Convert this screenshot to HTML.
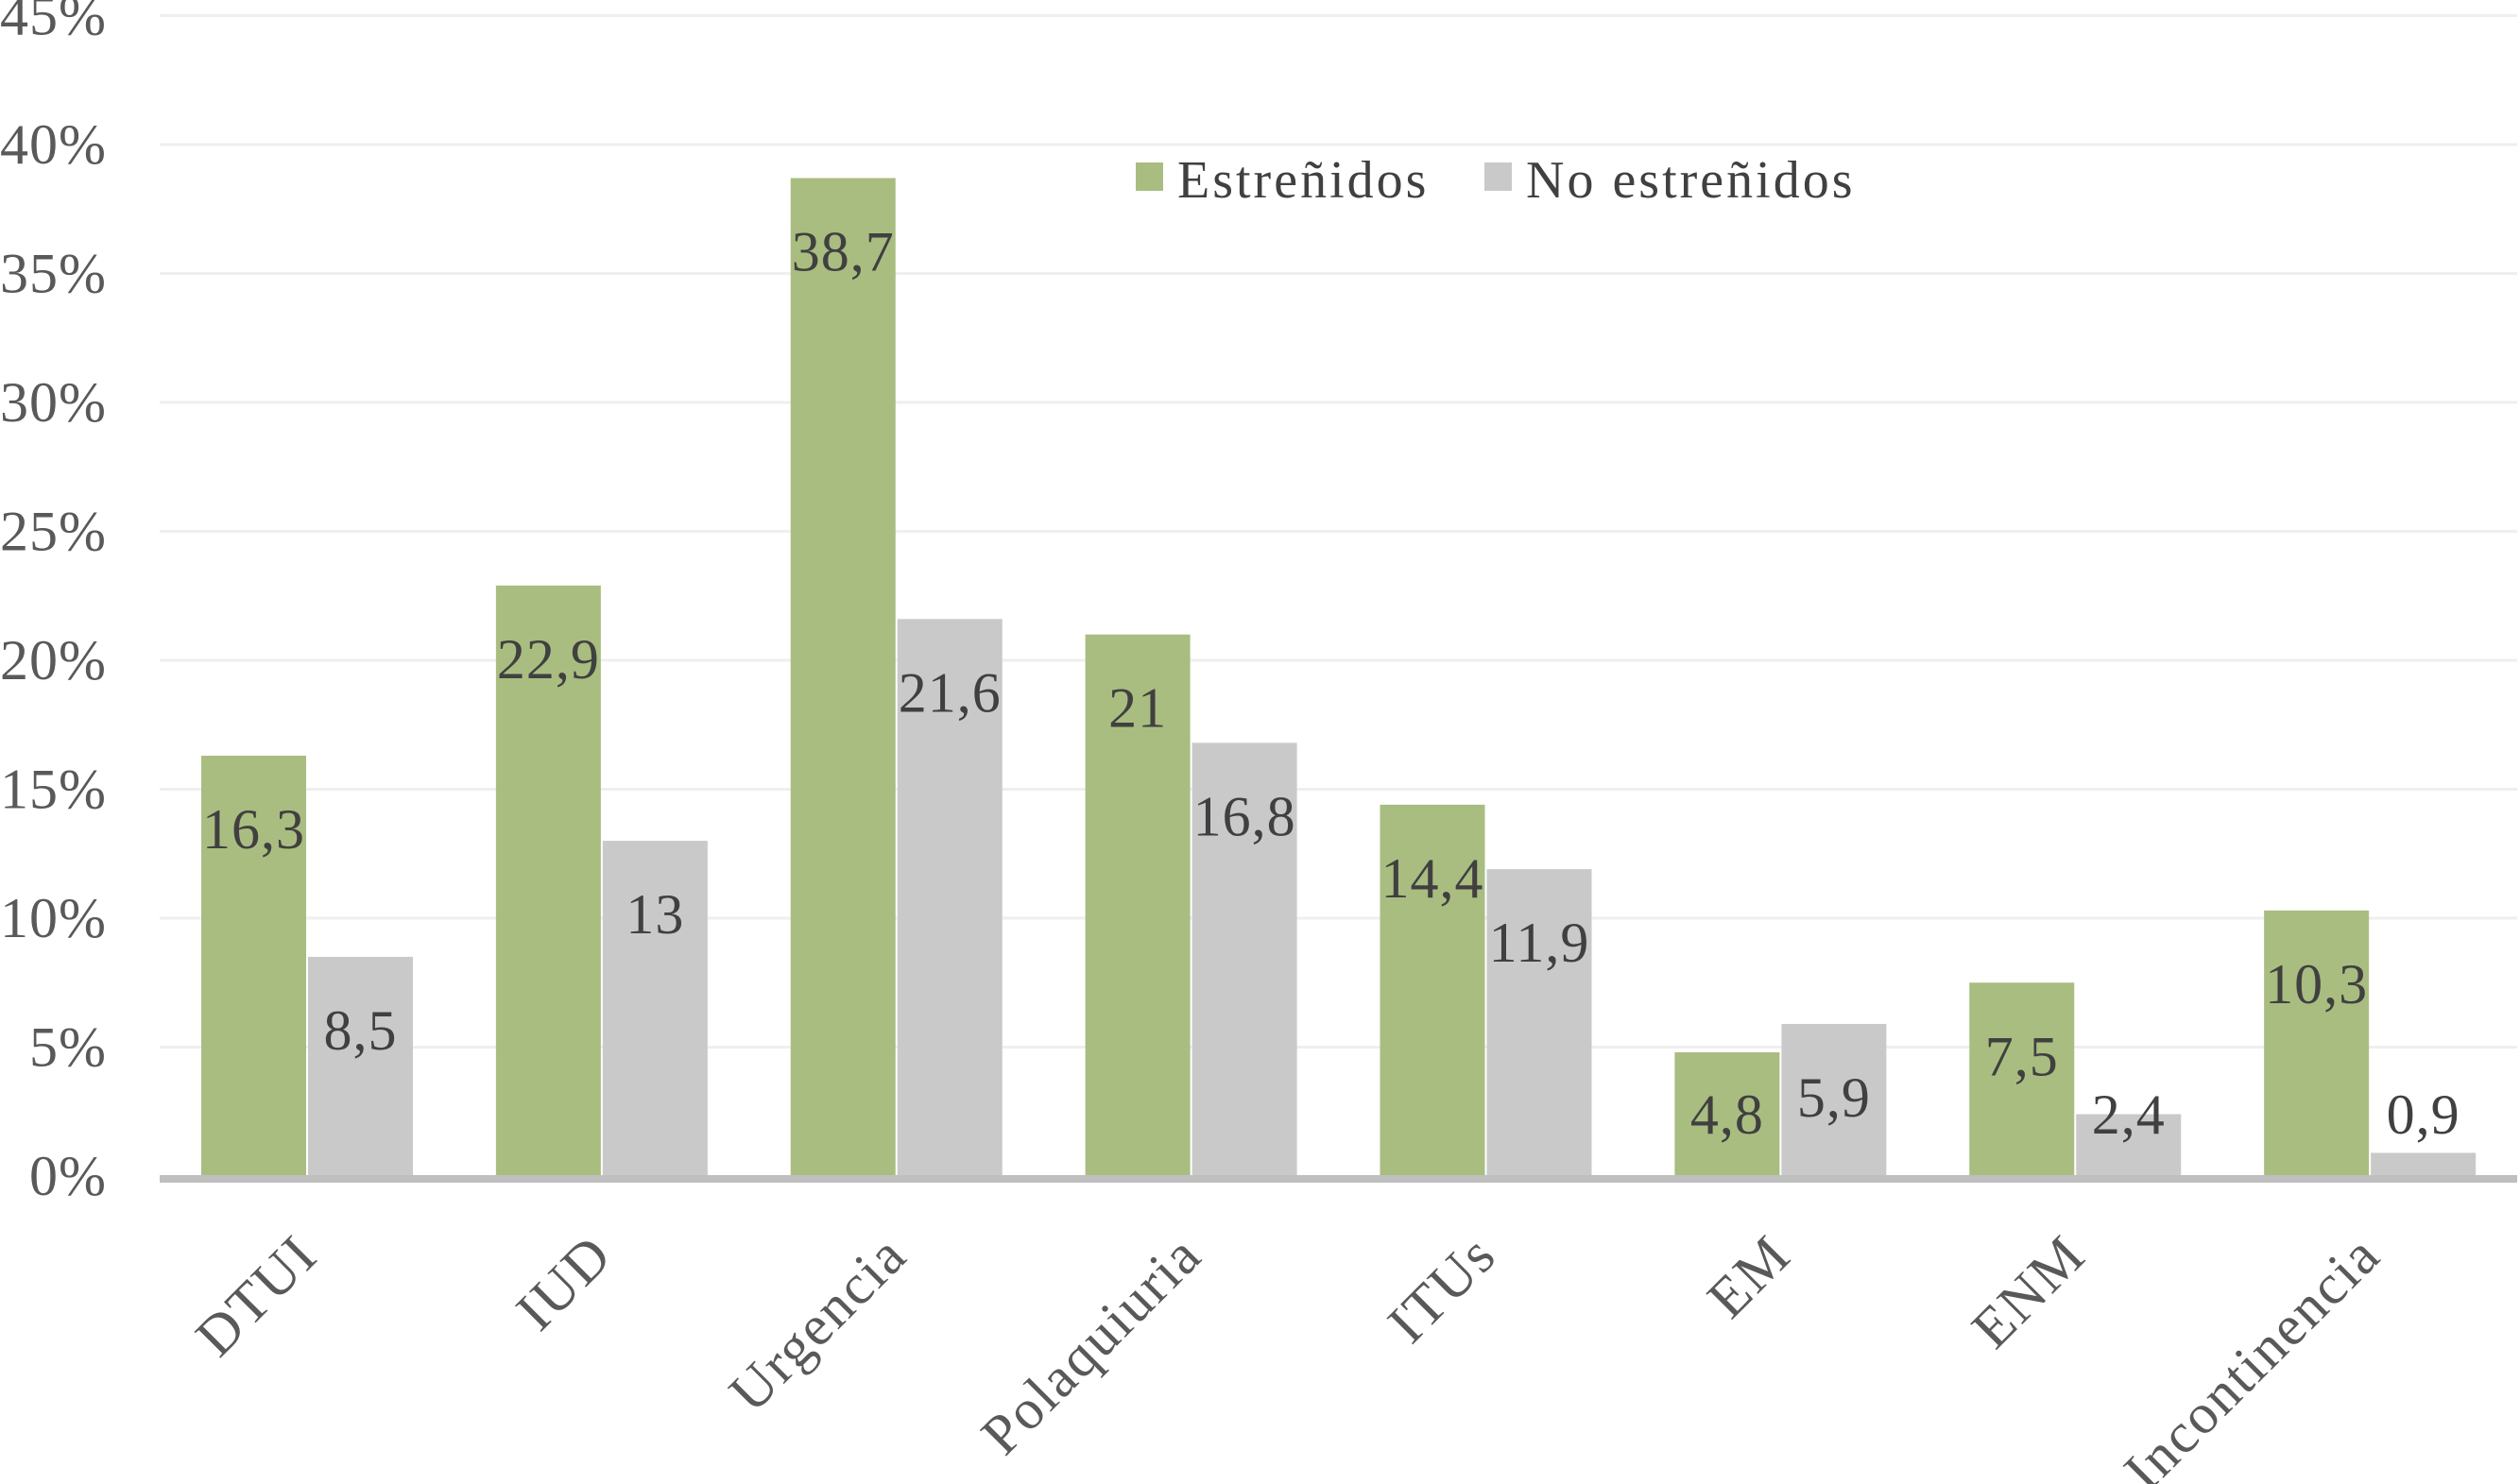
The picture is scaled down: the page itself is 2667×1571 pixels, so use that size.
<!DOCTYPE html>
<html><head><meta charset="utf-8"><style>
html,body{margin:0;padding:0;background:#fff;}
svg{display:block;font-family:"Liberation Serif",serif;}
</style></head><body>
<svg id="chart" width="2667" height="1571" viewBox="0 0 2667 1571">
<g id="grid"></g>
<g id="yticks"></g>
<g id="bars"></g>
<g id="vals"></g>
<g id="xlabels"></g>
<line x1="169" x2="2664" y1="1248" y2="1248" stroke="#bfbfbf" stroke-width="8"/>
<g>
  <g>
    <rect x="1202" y="172" width="29" height="30" fill="#a9bd80"/>
    <text x="1246" y="209" font-size="56" letter-spacing="3" fill="#404040">Estreñidos</text>
  </g>
  <g>
    <rect x="1571" y="172" width="29" height="30" fill="#c9c9c9"/>
    <text x="1615" y="209" font-size="56" letter-spacing="3" fill="#404040">No estreñidos</text>
  </g>
</g>
</svg>
<script>
const categories = ["DTUI","IUD","Urgencia","Polaquiuria","ITUs","EM","ENM","Incontinencia"];
const estrenidos = [16.3,22.9,38.7,21,14.4,4.8,7.5,10.3];
const noEstrenidos = [8.5,13,21.6,16.8,11.9,5.9,2.4,0.9];
const yTicks = [0,5,10,15,20,25,30,35,40,45];
const estLabels = ["16,3","22,9","38,7","21","14,4","4,8","7,5","10,3"];
const noLabels = ["8,5","13","21,6","16,8","11,9","5,9","2,4","0,9"];

const NS = "http://www.w3.org/2000/svg";
const plotL = 169, plotR = 2664, y0 = 1245, pxPer = 27.3;
const bandW = (plotR - plotL) / categories.length;
const barW = 111;
function y(v){ return y0 - v * pxPer; }
function xBand(i){ return plotL + i * bandW; }
function mk(tag, attrs, parent){ const e = document.createElementNS(NS, tag); for (const k in attrs) e.setAttribute(k, attrs[k]); parent.appendChild(e); return e; }

const grid = document.getElementById('grid'), yt = document.getElementById('yticks');
yTicks.forEach(t => {
  if (t > 0) {
    const l = mk('line', {x1: plotL, x2: plotR, y1: y(t), y2: y(t), stroke: '#efefef', 'stroke-width': 3}, grid);
    
    
  }
  const tx = mk('text', {x: 113, y: y(t), 'font-size': 60, 'letter-spacing': 1, fill: '#595959', 'text-anchor': 'end', 'dominant-baseline': 'central'}, yt);
  tx.textContent = t + '%';
  
  
});

const bars = document.getElementById('bars'), vals = document.getElementById('vals'), xl = document.getElementById('xlabels');
function bar(x, v, fill, label) {
  const r = mk('rect', {x: x, y: y(v), width: barW, height: y0 - y(v), fill: fill}, bars);
  
  
  const cy = Math.min(y(v) + 78, 1180);
  const t = mk('text', {x: x + barW / 2, y: cy, 'font-size': 60, 'letter-spacing': 1, fill: '#404040', 'text-anchor': 'middle', 'dominant-baseline': 'central'}, vals);
  t.textContent = label;
  
  
}
categories.forEach((c, i) => {
  const bx = xBand(i) + 44;
  bar(bx, estrenidos[i], '#a9bd80', estLabels[i]);
  bar(bx + barW + 2, noEstrenidos[i], '#c9c9c9', noLabels[i]);
  const cx = xBand(i) + bandW / 2;
  const px = cx + 14, py = 1332;
  const t = mk('text', {x: px, y: py, 'font-size': 60, 'letter-spacing': 2, fill: '#595959', 'text-anchor': 'end', transform: `rotate(-45 ${px} ${py})`}, xl);
  t.textContent = c;
  
  
});
</script>
</body></html>
